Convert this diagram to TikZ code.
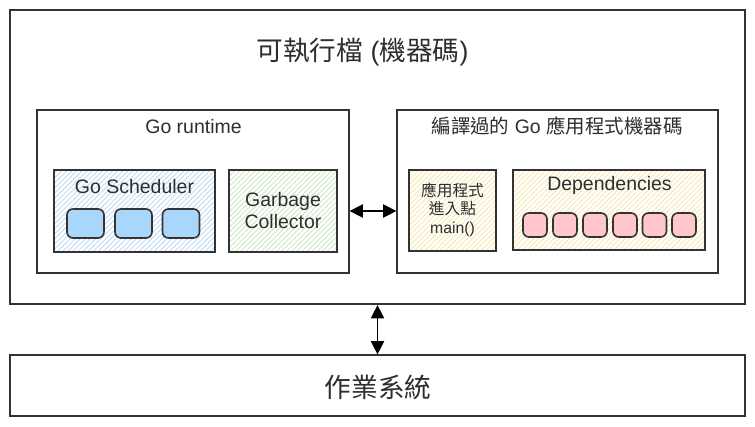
\documentclass[tikz,border=0pt]{standalone}
\usepackage{fontspec}
\setmainfont{Liberation Sans}
\newfontfamily\cjk{Noto Sans CJK TC}
\usetikzlibrary{arrows.meta,patterns.meta}
\definecolor{edge}{HTML}{333333}
\definecolor{bluehatch}{HTML}{C2DCF4}
\definecolor{greenhatch}{HTML}{CDE8C4}
\definecolor{yellowhatch}{HTML}{F8E8B0}
\definecolor{bluebox}{HTML}{A9D6FB}
\definecolor{pinkbox}{HTML}{FFC7CA}
\definecolor{txt}{HTML}{2E2E2E}
\tikzset{
  sz/.style 2 args={minimum width=#1*0.75pt,minimum height=#2*0.75pt},
  plainbox/.style={draw=edge,line width=0.9pt,fill=white,inner sep=0pt,rectangle},
  hatchbox/.style={draw=edge,line width=0.8pt,inner sep=0pt,rectangle,
     pattern={Lines[angle=45,distance=2.7pt,line width=0.7pt]},pattern color=#1},
  chip/.style={draw=edge,line width=1.2pt,rounded corners=4.5pt,fill=#1,inner sep=0pt,rectangle},
  lbl/.style={text=txt,font=\fontsize{14.6pt}{17pt}\selectfont,inner sep=0pt,align=center},
  big/.style={text=txt,font=\fontsize{20pt}{24pt}\selectfont,inner sep=0pt},
  small/.style={text=txt,font=\fontsize{11.8pt}{13.9pt}\selectfont,inner sep=0pt,align=center},
  conn/.style={line width=0.9pt,draw=black,{Triangle[length=10pt,width=10pt]}-{Triangle[length=10pt,width=10pt]}}
}
\begin{document}
\begin{tikzpicture}[x=0.75pt,y=-0.75pt]
\useasboundingbox[fill=white] (0,0) rectangle (755,426);
% outer executable box
\node[plainbox,line width=1.6pt,sz={735}{294}] (outer) at (377.5,157) {};
\node[big] (title) at (362.5,52) {{\cjk 可執行檔} ({\cjk 機器碼})};
% Go runtime
\node[plainbox,sz={312}{163}] (rt) at (193,191.5) {};
\node[lbl] (rtt) at (193.5,127) {Go runtime};
\node[hatchbox=bluehatch,sz={161}{82}] (sch) at (134.5,211) {};
\node[lbl] (scht) at (134.5,187) {Go Scheduler};
\node[chip=bluebox,sz={37}{29}] (g1) at (85.5,223.5) {};
\node[chip=bluebox,sz={37}{29}] (g2) at (133.5,223.5) {};
\node[chip=bluebox,sz={37}{29}] (g3) at (181,223.5) {};
\node[hatchbox=greenhatch,sz={108}{82}] (gc) at (283,211) {};
\node[lbl] (gct) at (283,210.5) {Garbage\\Collector};
% compiled app
\node[plainbox,sz={321}{163}] (app) at (557.5,191.5) {};
\node[lbl] (appt) at (557,126) {{\cjk 編譯過的} Go {\cjk 應用程式機器碼}};
\node[hatchbox=yellowhatch,sz={87}{81}] (entry) at (452.5,210.5) {};
\node[small] (entryt) at (452.5,209.5) {{\cjk 應用程式}\\{\cjk 進入點}\\main()};
\node[hatchbox=yellowhatch,sz={192}{80}] (dep) at (609,210) {};
\node[lbl] (dept) at (609.5,185) {Dependencies};
\foreach \i/\x in {1/535,2/565,3/595,4/625,5/654.5,6/684}
  \node[chip=pinkbox,sz={24}{24}] (d\i) at (\x,225) {};
% operating system
\node[plainbox,sz={735}{61}] (os) at (377.5,385.5) {};
\node[big] (ost) at (378,387) {\cjk 作業系統};
% connectors
\draw[conn] (rt.east |- gc) -- (app.west |- gc);
\draw[conn] (outer.south) -- (os.north);
\end{tikzpicture}
\end{document}
